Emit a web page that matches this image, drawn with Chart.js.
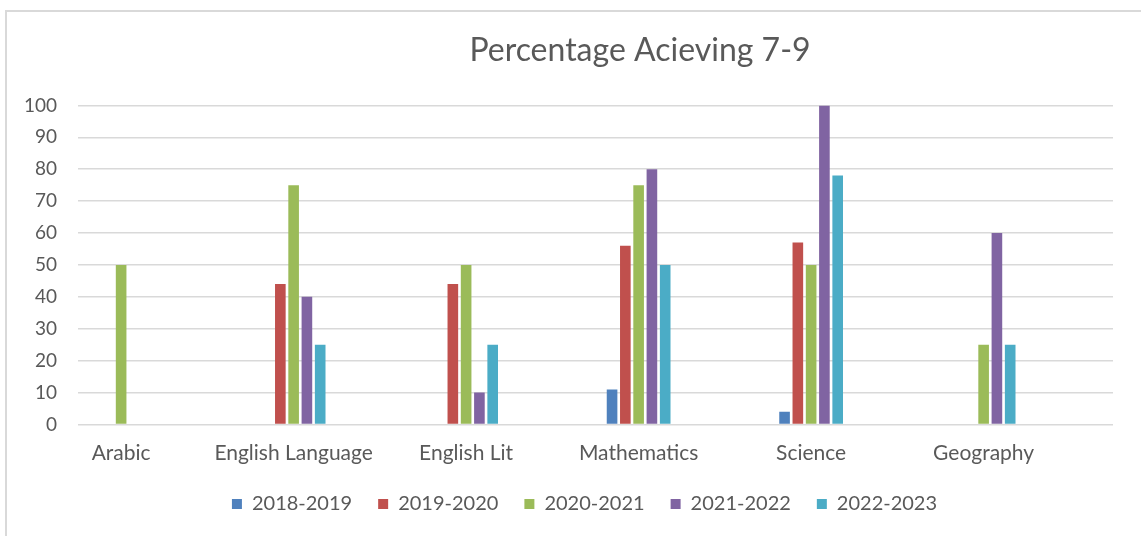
<!DOCTYPE html>
<html>
<head>
<meta charset="utf-8">
<script src="https://cdn.jsdelivr.net/npm/chart.js@4/dist/chart.umd.min.js"></script>
<style>
  html, body { margin: 0; padding: 0; background: #fff; overflow: hidden; }
  .frame { position: absolute; left: 5px; top: 10px; width: 1200px; height: 600px; border-left: 2px solid #d9d9d9; border-top: 2px solid #d9d9d9; }
  .wrap { position: absolute; left: 0; top: 0; width: 1280px; height: 536px; }
</style>
</head>
<body>
<div class="frame"></div>
<div class="wrap"><canvas id="grafik"></canvas></div>
<script>
// data
const subjects = ["Arabic", "English Language", "English Lit", "Mathematics", "Science", "Geography"];
const years = ["2018-2019", "2019-2020", "2020-2021", "2021-2022", "2022-2023"];
const y2018 = [0, 0, 0, 11, 4, 0];
const y2019 = [0, 44, 44, 56, 57, 0];
const y2020 = [50, 75, 50, 75, 50, 25];
const y2021 = [0, 40, 10, 80, 100, 60];
const y2022 = [0, 25, 25, 50, 78, 25];
const yTicks = [0, 10, 20, 30, 40, 50, 60, 70, 80, 90, 100];

const colors = ["#4F81BD", "#C0504D", "#9BBB59", "#8064A2", "#4BACC6"];
const series = [y2018, y2019, y2020, y2021, y2022];
const textColor = "#595959";
const font = "Lato";

const datasets = series.map((vals, idx) => {
  return {
    label: years[idx],
    data: vals.map((v, i) => ({ x: i, y: v })),
    backgroundColor: colors[idx],
    borderWidth: 0,
    categoryPercentage: 0.385,
    barPercentage: 0.8,
  };
});

// legend sits a little left of the plot centre in the picture
const legendShift = {
  id: "legendShift",
  afterLayout(c) {
    c.legend.left -= 11;
    c.legend.right -= 11;
  },
};

const chart = document.getElementById("grafik");

new Chart(chart, {
  type: "bar",
  data: { datasets: datasets },
  plugins: [legendShift],
  options: {
    responsive: true,
    maintainAspectRatio: false,
    animation: false,
    layout: { padding: { top: 0, bottom: 12, left: 0, right: 0 } },
    plugins: {
      title: {
        display: true,
        text: "Percentage Acieving 7-9",
        color: textColor,
        font: { family: font, size: 32, weight: "normal" },
        padding: { top: 31, bottom: 36 },
      },
      legend: {
        position: "bottom",
        fullSize: false,
        labels: {
          color: textColor,
          font: { family: font, size: 20 },
          boxWidth: 10,
          boxHeight: 10,
          padding: 26,
        },
      },
      tooltip: { enabled: false },
    },
    scales: {
      x: {
        type: "linear",
        offset: false,
        min: -0.25,
        max: 5.75,
        afterBuildTicks: (scale) => {
          scale.ticks = subjects.map((s, i) => ({ value: i }));
        },
        afterFit: (scale) => {
          scale.height = 43.5;
        },
        grid: { display: false },
        border: { display: false },
        ticks: {
          autoSkip: false,
          maxRotation: 0,
          padding: 8,
          color: textColor,
          font: { family: font, size: 21 },
          callback: (v) => subjects[v],
        },
      },
      y: {
        min: 0,
        max: 100,
        afterBuildTicks: (scale) => {
          scale.ticks = yTicks.map((v) => ({ value: v }));
        },
        afterFit: (scale) => {
          scale.width = 78;
        },
        grid: { color: "#d9d9d9", lineWidth: 1.5, drawTicks: false },
        border: { display: false },
        ticks: {
          padding: 21,
          color: textColor,
          font: { family: font, size: 19 },
        },
      },
      // empty right-hand spacer so the title sits where it does in the picture
      spacer: {
        type: "linear",
        position: "right",
        grid: { display: false },
        border: { display: false },
        ticks: { display: false },
        afterFit: (scale) => {
          scale.width = 167;
        },
      },
    },
  },
});
</script>
</body>
</html>
